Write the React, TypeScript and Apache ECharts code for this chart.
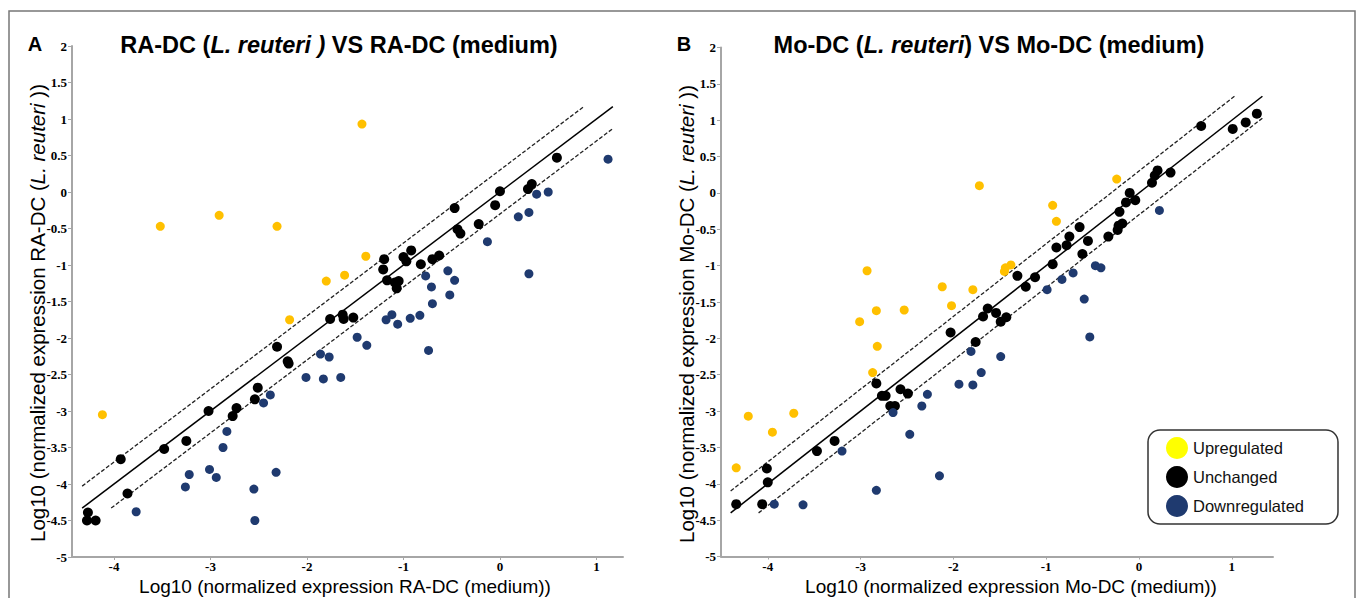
import React, { useEffect, useRef } from "react";
import * as echarts from "echarts";

// ---------- Data (log10 normalized expression: [medium, L. reuteri]) ----------
const xTickValues = [-4, -3, -2, -1, 0, 1];
const legendNames = ["Upregulated", "Unchanged", "Downregulated"];

const raUp = [[-3.52,-0.47],[-2.91,-0.32],[-2.31,-0.47],[-1.43,0.93],[-1.39,-0.88],[-1.80,-1.22],[-1.61,-1.14],[-2.18,-1.75],[-4.12,-3.05]];
const raUnchanged = [[0.59,0.47],[0.00,0.01],[0.33,0.11],[0.29,0.04],[-0.05,-0.18],[-0.22,-0.44],[-0.47,-0.22],[-0.44,-0.51],[-0.41,-0.57],[-0.63,-0.87],[-0.70,-0.92],[-0.82,-0.99],[-0.92,-0.80],[-1.00,-0.89],[-0.97,-0.95],[-1.20,-0.92],[-1.21,-1.06],[-1.17,-1.21],[-1.09,-1.24],[-1.05,-1.22],[-1.07,-1.32],[-1.76,-1.74],[-1.63,-1.68],[-1.62,-1.74],[-1.52,-1.72],[-2.31,-2.12],[-2.20,-2.32],[-2.19,-2.35],[-2.51,-2.68],[-2.54,-2.84],[-2.73,-2.96],[-2.77,-3.07],[-3.02,-3.00],[-3.25,-3.41],[-3.48,-3.52],[-3.93,-3.66],[-3.86,-4.13],[-4.27,-4.39],[-4.28,-4.50],[-4.19,-4.50]];
const raDown = [[1.12,0.45],[0.50,0.00],[0.38,-0.03],[0.30,-0.28],[0.19,-0.34],[-0.13,-0.68],[0.30,-1.12],[-0.54,-1.08],[-0.47,-1.21],[-0.77,-1.15],[-0.71,-1.30],[-0.52,-1.41],[-0.70,-1.53],[-0.83,-1.69],[-0.93,-1.73],[-1.12,-1.68],[-1.18,-1.75],[-1.06,-1.81],[-1.48,-1.99],[-1.38,-2.10],[-0.74,-2.17],[-1.86,-2.22],[-1.77,-2.26],[-2.01,-2.54],[-1.83,-2.56],[-1.65,-2.54],[-2.38,-2.78],[-2.45,-2.89],[-2.83,-3.28],[-2.87,-3.50],[-3.01,-3.80],[-2.94,-3.91],[-3.22,-3.87],[-3.26,-4.04],[-2.32,-3.84],[-2.55,-4.07],[-2.54,-4.50],[-3.77,-4.38]];

const moUp = [[-1.72,0.10],[-2.93,-1.07],[-2.83,-1.62],[-3.01,-1.77],[-2.53,-1.61],[-2.12,-1.29],[-2.02,-1.55],[-1.79,-1.33],[-1.44,-1.03],[-1.45,-1.08],[-1.38,-0.99],[-2.82,-2.11],[-0.24,0.19],[-0.93,-0.17],[-0.89,-0.39],[-2.87,-2.47],[-4.21,-3.07],[-3.72,-3.03],[-3.95,-3.29],[-4.34,-3.78]];
const moUnchanged = [[0.67,0.92],[1.01,0.88],[1.15,0.97],[1.27,1.09],[0.34,0.28],[0.20,0.31],[0.17,0.24],[0.14,0.14],[-0.10,0.00],[-0.04,-0.10],[-0.14,-0.13],[-0.21,-0.26],[-0.18,-0.42],[-0.22,-0.45],[-0.23,-0.51],[-0.33,-0.60],[-0.64,-0.47],[-0.75,-0.60],[-0.78,-0.72],[-0.55,-0.66],[-0.89,-0.75],[-0.61,-0.84],[-0.93,-0.98],[-1.12,-1.16],[-1.31,-1.14],[-1.22,-1.29],[-1.63,-1.59],[-1.68,-1.70],[-1.54,-1.65],[-1.49,-1.77],[-1.43,-1.71],[-2.03,-1.92],[-1.76,-2.05],[-2.83,-2.62],[-2.77,-2.79],[-2.73,-2.79],[-2.68,-2.93],[-2.63,-2.93],[-2.57,-2.70],[-2.49,-2.76],[-3.28,-3.41],[-3.47,-3.55],[-4.01,-3.79],[-4.00,-3.98],[-4.34,-4.28],[-4.06,-4.28]];
const moDown = [[0.22,-0.24],[-0.47,-1.00],[-0.41,-1.03],[-0.71,-1.10],[-0.83,-1.19],[-0.99,-1.33],[-0.59,-1.46],[-0.53,-1.98],[-1.49,-2.25],[-1.70,-2.47],[-1.81,-2.18],[-1.94,-2.63],[-1.79,-2.64],[-2.28,-2.77],[-2.34,-2.93],[-2.65,-3.02],[-2.47,-3.32],[-3.20,-3.55],[-2.15,-3.89],[-2.83,-4.09],[-3.93,-4.28],[-3.62,-4.29]];

// identity line range per panel, and 2-fold (log10 2) threshold
const raLineRange = [-4.33, 1.17];
const moLineRange = [-4.40, 1.33];
const foldOffset = 0.301;

const COLORS = { up: "#FFC000", unchanged: "#000000", down: "#1F3A6F", legendUp: "#FFFF00" };

function refLines(range: number[], gridIdx: number) {
  const [lo, hi] = range;
  const base = { type: "line", xAxisIndex: gridIdx, yAxisIndex: gridIdx, symbol: "none", silent: true, z: 1 };
  return [
    { ...base, name: "ref" + gridIdx, data: [[lo, lo], [hi, hi]], lineStyle: { color: "#000", width: 1.5 } },
    { ...base, name: "up" + gridIdx, data: [[lo, lo + foldOffset], [hi - foldOffset, hi]], lineStyle: { color: "#222", width: 1.3, type: [4, 2] } },
    { ...base, name: "lo" + gridIdx, data: [[lo + foldOffset, lo], [hi, hi - foldOffset]], lineStyle: { color: "#222", width: 1.3, type: [4, 2] } },
  ];
}

function scatter(name: string, data: number[][], idx: number, color: string, size: number) {
  return { type: "scatter", name, data, xAxisIndex: idx, yAxisIndex: idx, symbolSize: size, itemStyle: { color, opacity: 1 }, z: 3 };
}

const tickLabelStyle = { color: "#000", fontFamily: "Liberation Serif", fontWeight: "bold", fontSize: 13 };
const axisLineStyle = { color: "#a6a6a6", width: 2 };

function xAxis(idx: number, min: number, max: number) {
  return {
    gridIndex: idx, type: "value", min, max,
    axisLine: { show: true, onZero: false, lineStyle: axisLineStyle },
    axisTick: { show: true, length: 3, customValues: xTickValues, lineStyle: { color: "#a6a6a6" } },
    axisLabel: { ...tickLabelStyle, margin: 3, customValues: xTickValues },
    splitLine: { show: false },
  };
}
function yAxis(idx: number) {
  return {
    gridIndex: idx, type: "value", min: -5, max: 2, interval: 0.5,
    axisLine: { show: true, onZero: false, lineStyle: axisLineStyle },
    axisTick: { show: true, length: 4, lineStyle: { color: "#a6a6a6" } },
    axisLabel: { ...tickLabelStyle, margin: 5 },
    splitLine: { show: false },
  };
}

function titleText(x: number, pre: string, ital: string, post: string) {
  return {
    type: "text", x, y: 45,
    style: {
      text: `{b|${pre}}{i|${ital}}{b|${post}}`,
      align: "center", verticalAlign: "middle", fill: "#000",
      rich: {
        b: { fontFamily: "Liberation Sans", fontWeight: "bold", fontSize: 23.5, fill: "#000" },
        i: { fontFamily: "Liberation Sans", fontWeight: "bold", fontStyle: "italic", fontSize: 23.5, fill: "#000" },
      },
    },
  };
}
function yName(x: number, y: number, pre: string, ital: string, post: string) {
  return {
    type: "text", x, y, rotation: Math.PI / 2,
    style: {
      text: `{n|${pre}}{i|${ital}}{n|${post}}`,
      align: "center", verticalAlign: "middle", fill: "#000",
      rich: {
        n: { fontFamily: "Liberation Sans", fontSize: 20.5, fill: "#000" },
        i: { fontFamily: "Liberation Sans", fontStyle: "italic", fontSize: 20.5, fill: "#000" },
      },
    },
  };
}
function plainText(x: number, y: number, text: string, size: number, weight = "normal") {
  return {
    type: "text", x, y,
    style: { text, align: "center", verticalAlign: "middle", fill: "#000", fontFamily: "Liberation Sans", fontSize: size, fontWeight: weight },
  };
}

export default function App() {
  const ref = useRef<HTMLDivElement>(null);
  useEffect(() => {
    if (!ref.current) return;
    const chart = echarts.init(ref.current, null, { renderer: "svg" });
    chart.setOption({
      animation: false,
      backgroundColor: "#fff",
      grid: [
        { left: 72, top: 46, width: 551, height: 511 },
        { left: 721, top: 47.5, width: 552, height: 509 },
      ],
      xAxis: [xAxis(0, -4.435, 1.275), xAxis(1, -4.504, 1.444)],
      yAxis: [yAxis(0), yAxis(1)],
      legend: {
        orient: "vertical", left: 1148, top: 430,
        data: [
          { name: legendNames[0], itemStyle: { color: COLORS.legendUp } },
          { name: legendNames[1], itemStyle: { color: COLORS.unchanged } },
          { name: legendNames[2], itemStyle: { color: COLORS.down } },
        ],
        icon: "circle", itemWidth: 22, itemHeight: 22, itemGap: 7, itemTextGap: 8, padding: [7, 34, 7, 18],
        borderColor: "#333", borderWidth: 1.5, borderRadius: 12, backgroundColor: "#fff",
        textStyle: { fontFamily: "Liberation Sans", fontSize: 16.5, color: "#111" },
        selectedMode: false,
      },
      graphic: [
        { type: "rect", shape: { x: 9, y: 11, width: 1346, height: 620 }, style: { fill: "none", stroke: "#777", lineWidth: 1.5 }, silent: true },
        plainText(35, 44, "A", 20, "bold"),
        plainText(684, 44, "B", 20, "bold"),
        titleText(339, "RA-DC (", "L. reuteri )", " VS RA-DC (medium)"),
        titleText(989, "Mo-DC (", "L. reuteri", ") VS Mo-DC (medium)"),
        yName(37, 313, "Log10 (normalized expression RA-DC (", "L. reuteri", " ))"),
        yName(686, 314, "Log10 (normalized expression Mo-DC (", "L. reuteri", " ))"),
        plainText(345, 586, "Log10 (normalized expression RA-DC (medium))", 19),
        plainText(1011, 586, "Log10 (normalized expression Mo-DC (medium))", 19),
      ],
      series: [
        ...refLines(raLineRange, 0),
        ...refLines(moLineRange, 1),
        scatter(legendNames[0], raUp, 0, COLORS.up, 9),
        scatter(legendNames[1], raUnchanged, 0, COLORS.unchanged, 10),
        scatter(legendNames[2], raDown, 0, COLORS.down, 9),
        scatter(legendNames[0], moUp, 1, COLORS.up, 9),
        scatter(legendNames[1], moUnchanged, 1, COLORS.unchanged, 10),
        scatter(legendNames[2], moDown, 1, COLORS.down, 9),
      ],
    });
    return () => chart.dispose();
  }, []);
  return <div ref={ref} style={{ position: "fixed", left: 0, top: 0, width: 1357, height: 598 }} />;
}
